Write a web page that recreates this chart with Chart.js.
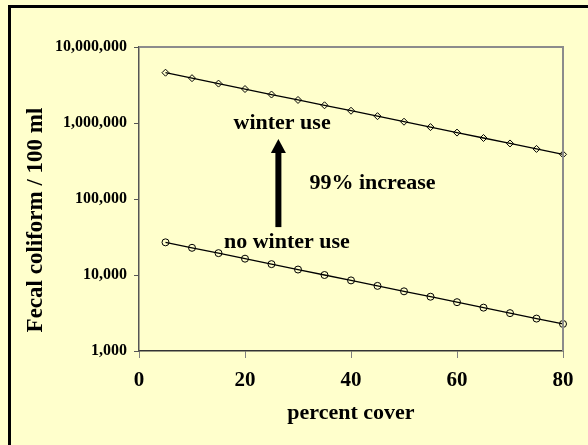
<!DOCTYPE html>
<html>
<head>
<meta charset="utf-8">
<script src="https://cdn.jsdelivr.net/npm/chart.js@4"></script>
<style>
html,body{margin:0;padding:0;background:#FFFFCC;}
#wrap{width:588px;height:445px;position:relative;}
</style>
</head>
<body>
<div id="wrap"><canvas id="c" width="588" height="445"></canvas></div>
<script>
const percentCover = [5,10,15,20,25,30,35,40,45,50,55,60,65,70,75,80];
const winterUse = [4590000,3890000,3300000,2800000,2370000,2010000,1710000,1450000,1230000,1040000,883000,748000,635000,538000,456000,387000];
const noWinterUse = [26900,22800,19400,16400,13900,11800,10000,8490,7190,6100,5180,4390,3720,3150,2670,2270];
const yTicks = [1000,10000,100000,1000000,10000000];
const xTicks = [0,20,40,60,80];
const notes = [
  {text:'winter use', x:27.0, y:1000000},
  {text:'99% increase', x:44.05, y:162000},
  {text:'no winter use', x:27.9, y:27200}
];
const arrowNote = {x:26.3, from:42700, to:617000};

const FONT = "'Liberation Serif','Times New Roman',serif";

const deco = {
  id:'deco',
  beforeDraw(chart){
    const ctx = chart.ctx;
    ctx.save();
    ctx.fillStyle = '#FFFFCC';
    ctx.fillRect(0,0,chart.width,chart.height);
    ctx.strokeStyle = '#000';
    ctx.lineWidth = 3;
    ctx.beginPath();
    ctx.moveTo(9.5, 445);
    ctx.lineTo(9.5, 6.5);
    ctx.lineTo(588, 6.5);
    ctx.stroke();
    ctx.restore();
  },
  afterDraw(chart){
    const ctx = chart.ctx;
    const xs = chart.scales.x, ys = chart.scales.y;
    const a = chart.chartArea;
    ctx.save();
    ctx.strokeStyle = '#8C8C8C';
    ctx.lineWidth = 2;
    ctx.beginPath();
    ctx.moveTo(a.left, a.top);
    ctx.lineTo(a.right, a.top);
    ctx.lineTo(a.right, a.bottom);
    ctx.stroke();

    ctx.fillStyle = '#000';
    ctx.textAlign = 'center';
    ctx.textBaseline = 'middle';
    ctx.font = 'bold 22px ' + FONT;
    ctx.fillText('percent cover', (xs.left + xs.right)/2, 413);
    ctx.save();
    ctx.translate(36, 220);
    ctx.rotate(-Math.PI/2);
    ctx.font = 'bold 23px ' + FONT;
    ctx.fillText('Fecal coliform / 100 ml', 0, 0);
    ctx.restore();
    ctx.font = 'bold 22px ' + FONT;
    notes.forEach(n => {
      ctx.fillText(n.text, xs.getPixelForValue(n.x), ys.getPixelForValue(n.y));
    });
    const ax = xs.getPixelForValue(arrowNote.x);
    const yb = ys.getPixelForValue(arrowNote.from);
    const yt = ys.getPixelForValue(arrowNote.to);
    ctx.fillRect(ax - 3, yt + 12, 6, yb - yt - 12);
    ctx.beginPath();
    ctx.moveTo(ax, yt);
    ctx.lineTo(ax + 7.5, yt + 14);
    ctx.lineTo(ax - 7.5, yt + 14);
    ctx.closePath();
    ctx.fill();
    ctx.restore();
  }
};

new Chart(document.getElementById('c'), {
  type:'line',
  data:{
    datasets:[
      {
        label:'winter use',
        data: percentCover.map((x,i)=>({x:x, y:winterUse[i]})),
        borderColor:'#000', borderWidth:1.3,
        pointStyle:'rectRot', pointRadius:3.5, pointBorderColor:'#000',
        pointBackgroundColor:'rgba(0,0,0,0)', pointBorderWidth:1,
        fill:false, tension:0, clip:false
      },
      {
        label:'no winter use',
        data: percentCover.map((x,i)=>({x:x, y:noWinterUse[i]})),
        borderColor:'#000', borderWidth:1.3,
        pointStyle:'circle', pointRadius:3.5, pointBorderColor:'#000',
        pointBackgroundColor:'rgba(0,0,0,0)', pointBorderWidth:1,
        fill:false, tension:0, clip:false
      }
    ]
  },
  options:{
    responsive:false,
    animation:false,
    devicePixelRatio:1,
    layout:{padding:{left:0, top:47, right:25, bottom:0}},
    plugins:{legend:{display:false}, tooltip:{enabled:false}},
    scales:{
      x:{
        type:'linear', min:0, max:80, position:'bottom',
        afterBuildTicks(s){ s.ticks = xTicks.map(v=>({value:v})); },
        afterFit(s){ s.height = 94; },
        grid:{display:true, drawOnChartArea:false, drawTicks:true, tickLength:7, color:'#808080'},
        border:{display:true, color:'#333', width:1.5},
        ticks:{color:'#000', font:{family:FONT, size:21, weight:'bold'}, padding:10, maxRotation:0}
      },
      y:{
        type:'logarithmic', min:1000, max:10000000, position:'left',
        afterBuildTicks(s){ s.ticks = yTicks.map(v=>({value:v})); },
        afterFit(s){ s.width = 139; },
        grid:{display:true, drawOnChartArea:false, drawTicks:true, tickLength:5, color:'#555'},
        border:{display:true, color:'#555', width:1.5},
        ticks:{color:'#000', font:{family:FONT, size:16, weight:'bold'}, padding:7,
          callback:(v)=>Number(v).toLocaleString('en-US')}
      }
    }
  },
  plugins:[deco]
});
</script>
</body>
</html>
